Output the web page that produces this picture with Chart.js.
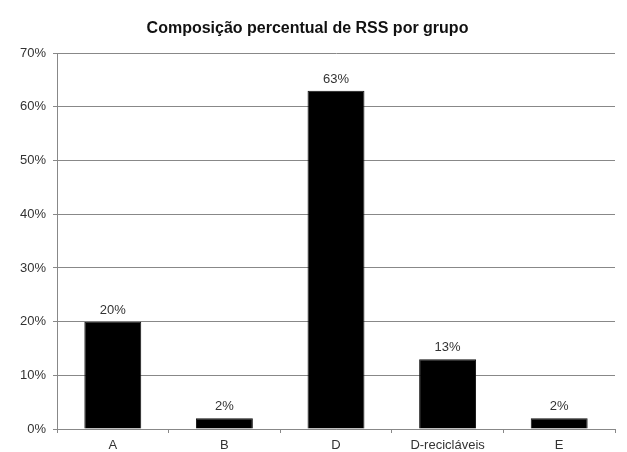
<!DOCTYPE html>
<html>
<head>
<meta charset="utf-8">
<script src="https://cdn.jsdelivr.net/npm/chart.js@4/dist/chart.umd.min.js"></script>
<style>
  html, body { margin: 0; padding: 0; background: #fff; }
  #wrap { width: 627px; height: 452px; }
</style>
</head>
<body>
<div id="wrap"><canvas id="c" width="627" height="452"></canvas></div>
<script>
const categories = ['A', 'B', 'D', 'D-recicláveis', 'E'];
const percentages = [20, 2, 63, 13, 2];
const yTicks = [0, 10, 20, 30, 40, 50, 60, 70];

const FONT = '"Liberation Sans", Arial, sans-serif';

// Writes the percentage above each bar
const valueLabels = {
  id: 'valueLabels',
  afterDatasetsDraw(chart) {
    const ctx = chart.ctx;
    const meta = chart.getDatasetMeta(0);
    ctx.save();
    ctx.font = '13px ' + FONT;
    ctx.fillStyle = '#333';
    ctx.textAlign = 'center';
    ctx.textBaseline = 'alphabetic';
    meta.data.forEach((bar, i) => {
      ctx.fillText(percentages[i] + '%', bar.x, bar.y - 8);
    });
    ctx.restore();
  }
};

new Chart(document.getElementById('c'), {
  type: 'bar',
  data: {
    labels: categories,
    datasets: [{
      data: percentages,
      backgroundColor: '#000',
      borderColor: '#111',
      borderWidth: 1,
      barPercentage: 0.51,
      categoryPercentage: 1
    }]
  },
  options: {
    responsive: false,
    animation: false,
    devicePixelRatio: 1,
    layout: { padding: { top: 0, right: 12, bottom: 0, left: 0 } },
    plugins: {
      legend: { display: false },
      tooltip: { enabled: false },
      title: {
        display: true,
        text: 'Composição percentual de RSS por grupo',
        color: '#111',
        font: { family: FONT, size: 16, weight: 'bold' },
        padding: { top: 19, bottom: 15 }
      }
    },
    scales: {
      x: {
        offset: true,
        grid: { offset: true, drawOnChartArea: false, tickLength: 4, color: '#888' },
        border: { color: '#888' },
        ticks: { color: '#333', padding: 5, font: { family: FONT, size: 13 } },
        afterFit(scale) { scale.height = 23; }
      },
      y: {
        min: 0,
        max: 70,
        afterBuildTicks(scale) { scale.ticks = yTicks.map(v => ({ value: v })); },
        grid: { color: '#888', tickLength: 4 },
        border: { color: '#888' },
        ticks: {
          color: '#333',
          padding: 7,
          font: { family: FONT, size: 13 },
          callback: v => v + '%'
        },
        afterFit(scale) { scale.width = 57; }
      }
    }
  },
  plugins: [valueLabels]
});
</script>
</body>
</html>
